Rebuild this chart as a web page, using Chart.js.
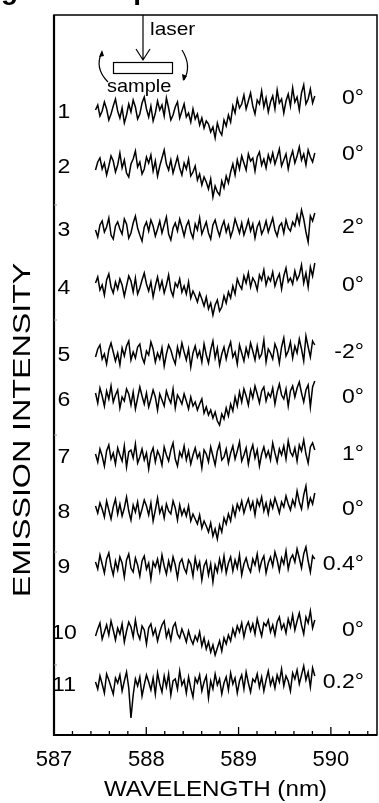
<!DOCTYPE html>
<html>
<head>
<meta charset="utf-8">
<script src="https://cdn.jsdelivr.net/npm/chart.js@4.4.0/dist/chart.umd.min.js"></script>
<style>
html, body { margin: 0; padding: 0; background: #fff; }
#wrap { width: 379px; height: 803px; }
</style>
</head>
<body>
<div id="wrap"><canvas id="myChart"></canvas></div>
<script>
// spectrum numbers and sample tilt for each trace
const traceNames = ["1", "2", "3", "4", "5", "6", "7", "8", "9", "10", "11"];
const tiltLabels = ["0°", "0°", "2°", "0°", "-2°", "0°", "1°", "0°", "0.4°", "0°", "0.2°"];
// vertical offset of each stacked spectrum (arb. units)
const offsets = [623, 568, 505, 447, 380, 335, 278, 223, 168, 102, 50];
// wavelength sampling of the spectrometer (nm)
const wlStart = 587.45;
const wlStep = 0.024;
const xTicks = [587, 588, 589, 590];
const yTickValues = [530, 415, 300, 183, 70];

// emission intensity (arb. units, relative to its offset)
const s1 = [2,7,-4,1,10,3,-8,-2,6,13, 1,-6,4,-11,-3,8,0,12,5,-7, -2,9,15,3,-5,6,-9,-1,11,2, 7,-4,14,4,-8,-3,5,10,-6,1,
  8,-5,-1,-10,3,-7,-2,-13,-6,-16, -9,-12,-20,-15,-26,-11,-19,-23,-8,-14, -3,-10,6,-1,13,4,8,17,3,11,
  19,6,-2,12,8,21,5,14,0,10, 16,3,22,9,13,-1,11,18,6,24, 10,15,2,19,27,8,13,23,9,16];
const s2 = [-3,5,9,-2,4,-8,1,11,6,-5, 2,14,-1,7,-6,-10,3,8,16,0, 5,-7,-2,10,4,12,-4,6,-9,1, 9,17,3,-3,7,-6,2,10,-1,-8,
  4,-2,8,-9,-5,1,-13,-7,-18,-10, -15,-22,-12,-30,-19,-25,-28,-14,-21,-9, -16,-5,3,-8,7,-2,11,4,-3,13,
  6,9,-4,10,15,2,8,-1,12,5, 14,3,10,18,1,7,13,-2,9,16, 4,11,20,7,13,2,17,10,5,14];
const s3 = [0,-7,5,9,-2,3,12,-5,-9,4, 8,1,-4,11,6,-8,-3,7,14,2, -5,-11,3,8,-1,10,4,-6,1,9, -3,5,13,-4,-10,2,7,-1,11,3,
  -6,4,9,-2,-8,6,0,12,-4,2, 8,-3,-9,5,10,1,-6,3,9,-2, 5,-7,0,11,4,-3,7,-5,2,10,
  -1,6,-8,3,8,-4,1,9,-2,5, 12,0,-6,4,7,-3,10,2,-1,8, 4,15,6,20,11,-2,-12,14,9,17];
const s4 = [5,11,-2,3,-7,8,14,1,-5,6, -1,9,3,-8,2,12,7,-4,10,-6, 0,8,15,4,-3,6,-9,2,11,-1, 7,-5,3,13,-2,-8,5,1,9,-4,
  2,-6,6,-10,-3,-8,-14,-5,-11,-18, -9,-21,-15,-27,-17,-12,-23,-19,-8,-15, -4,-10,2,-6,9,3,-1,12,5,15,
  1,10,6,-2,13,8,18,3,11,7, 16,2,9,14,-1,12,20,6,10,4, 17,8,13,23,5,15,1,21,12,25];
const s5 = [-2,6,10,-4,1,-9,5,12,3,-6, 2,-10,7,-1,9,14,-5,3,-3,8, 11,-2,-8,4,0,13,6,-7,2,-4, 7,-11,1,10,5,-3,-9,8,-1,12,
  3,-5,6,-12,2,9,-2,4,-7,11, 0,-8,5,14,-3,7,-10,1,8,-4, 6,13,-2,3,-9,10,2,-6,7,-1,
  12,4,-5,9,-3,1,15,-7,6,2, -4,11,5,-8,8,17,-1,4,13,-3, 9,2,16,6,-6,19,8,-2,14,10];
const s6 = [7,-3,12,4,-6,9,1,14,-2,5, 10,-8,3,-1,11,6,-5,8,-9,2, 13,4,-4,7,-7,1,10,3,-10,6, 0,-6,9,2,-3,11,-8,5,1,-4,
  6,-1,-9,3,-6,-2,-10,-4,1,-13, -7,-15,-10,-18,-12,-21,-25,-14,-19,-8, -16,-4,-11,3,-6,8,-2,11,4,-5,
  10,2,14,6,-3,9,13,-1,7,3, 12,-4,8,16,5,1,11,-6,9,14, 3,12,18,7,-2,10,15,-7,13,19];
const s7 = [3,-5,8,1,-9,6,12,-2,4,-7, 9,2,-4,11,-10,5,7,-1,13,-6, 0,8,-3,4,-12,3,9,-5,6,1, -8,10,2,-4,7,14,-2,-9,5,0,
  11,-3,6,-7,2,9,-1,4,-11,7, 3,-5,10,1,-8,6,13,-3,0,8, -6,4,11,-2,6,15,-4,2,9,-7,
  5,12,-1,7,-9,3,10,0,6,-3, 14,4,-5,8,2,11,-2,16,5,1, 9,-4,12,6,17,3,-6,10,14,7];
const s8 = [6,-1,9,3,-5,11,2,-7,5,13, -2,8,-4,4,15,1,-8,7,0,10, -5,3,12,6,-3,9,-9,2,14,-1, 5,-6,8,1,-2,11,4,-8,7,-3,
  3,-4,6,-9,-2,-7,-12,-3,-16,-9, -14,-20,-11,-24,-17,-27,-13,-20,-6,-12, -2,-9,5,-4,8,2,11,-1,7,13,
  3,10,-3,12,6,15,1,9,-2,11, 4,14,7,-1,10,5,16,8,2,12, 6,21,10,3,17,26,5,14,8,19];
const s9 = [5,-2,12,3,-6,8,14,1,-8,6, -3,10,4,-10,7,13,-1,-5,9,2, -9,6,11,-2,4,-12,5,0,8,-4, 12,1,-7,6,-3,10,2,-11,4,8,
  -1,-6,7,3,-9,9,-2,5,-13,1, 6,-8,3,-15,2,-5,8,-3,11,-6, 4,10,-4,7,-1,12,-8,3,9,0,
  -5,8,2,13,-3,6,11,-6,4,10, 1,15,7,-4,9,3,16,-2,8,12, 5,18,9,-1,13,20,6,-5,11,8];
const s10 = [-3,4,10,-6,1,8,-2,12,3,-7, 5,-1,9,-9,2,11,6,-4,13,0, -6,7,3,-11,5,9,-2,4,-8,1, 8,12,-4,3,-7,6,10,-1,-5,4,
  -2,-9,2,-6,-11,-3,-8,1,-13,-5, -16,-9,-19,-12,-22,-15,-8,-18,-5,-11, -2,-8,4,-3,7,1,10,-4,6,11,
  2,9,-1,14,5,-3,10,7,13,1, 8,-2,11,16,4,9,0,14,6,18, 3,12,20,8,-1,16,10,22,5,13];
const s11 = [3,-4,9,1,-8,11,5,-2,-9,7, 2,10,-6,4,13,-3,-33,-10,6,-1, 8,-11,0,10,3,-5,7,-9,12,1, -7,9,-2,11,-10,4,6,-4,14,0,
  5,-8,8,-3,-12,7,2,10,-6,3, 9,-13,4,-4,11,0,6,-9,2,8, -5,12,1,7,-8,4,10,-4,13,2,
  -7,6,3,11,-2,8,-6,5,14,0, 7,-3,10,3,16,-1,9,4,-6,12, 6,15,1,10,19,5,13,-2,17,9];
const spectra = [s1, s2, s3, s4, s5, s6, s7, s8, s9, s10, s11];

const FONT = "'Liberation Sans', Arial, Helvetica, sans-serif";

const datasets = spectra.map(function (vals, k) {
    return {
        label: traceNames[k],
        data: vals.map(function (v, i) {
            return { x: wlStart + i * wlStep, y: offsets[k] + v };
        }),
        borderColor: "#000",
        borderWidth: 1.5,
        pointRadius: 0,
        tension: 0,
        fill: false
    };
});

function stretchedText(ctx, txt, x, y, align, sx) {
    ctx.save();
    ctx.translate(x, y);
    ctx.scale(sx, 1);
    ctx.textAlign = align;
    ctx.fillText(txt, 0, 0);
    ctx.restore();
}

const framePlugin = {
    id: "frame",
    afterDraw(chart) {
        const ctx = chart.ctx;
        const a = chart.chartArea;
        const xs = chart.scales.x;
        const ys = chart.scales.y;
        ctx.save();
        // box
        ctx.strokeStyle = "#000";
        ctx.lineWidth = 1.5;
        ctx.strokeRect(a.left, a.top, a.right - a.left, a.bottom - a.top);
        ctx.lineWidth = 2.2;
        ctx.beginPath();
        ctx.moveTo(a.left, a.top);
        ctx.lineTo(a.left, a.bottom);
        ctx.lineTo(a.right, a.bottom);
        ctx.stroke();

        // inward ticks on wavelength axis, every 0.2 nm
        ctx.lineWidth = 1.3;
        for (let t = 0; t <= 17; t++) {
            const v = 587 + t * 0.2;
            const px = xs.getPixelForValue(v);
            const len = (t % 5 === 0) ? 8 : 4;
            ctx.beginPath();
            ctx.moveTo(px, a.bottom);
            ctx.lineTo(px, a.bottom - len);
            ctx.stroke();
        }
        // faint ticks on intensity axis
        ctx.strokeStyle = "#999";
        ctx.lineWidth = 1;
        yTickValues.forEach(function (v) {
            const py = ys.getPixelForValue(v);
            ctx.beginPath();
            ctx.moveTo(a.left, py);
            ctx.lineTo(a.left + 3, py);
            ctx.stroke();
        });

        // trace numbers and tilt angles
        const tiltNudge = [-14, -13, -3, -3, -3, -3, -3, -3, -3, -3, -3];
        ctx.fillStyle = "#000";
        ctx.font = "20px " + FONT;
        ctx.textBaseline = "middle";
        offsets.forEach(function (o, k) {
            const py = ys.getPixelForValue(o);
            stretchedText(ctx, traceNames[k], 64, py, "center", 1.15);
            stretchedText(ctx, tiltLabels[k], 364, py + tiltNudge[k], "right", 1.15);
        });

        // axis titles
        ctx.font = "22px " + FONT;
        ctx.textBaseline = "alphabetic";
        stretchedText(ctx, "WAVELENGTH (nm)", (a.left + a.right) / 2, 796, "center", 1.1);
        ctx.save();
        ctx.translate(30, 430);
        ctx.rotate(-Math.PI / 2);
        ctx.scale(1.4, 1);
        ctx.font = "23px " + FONT;
        ctx.textAlign = "center";
        ctx.fillText("EMISSION INTENSITY", 0, 0);
        ctx.restore();

        // inset: laser onto sample
        ctx.strokeStyle = "#000";
        ctx.lineWidth = 1.2;
        ctx.beginPath();
        ctx.moveTo(143, a.top);
        ctx.lineTo(143, 60);
        ctx.moveTo(136, 49);
        ctx.lineTo(143, 60);
        ctx.lineTo(150, 49);
        ctx.stroke();
        ctx.strokeRect(113.5, 62.5, 59, 11);
        ctx.beginPath();
        ctx.moveTo(102, 52);
        ctx.quadraticCurveTo(94, 68, 108, 82);
        ctx.moveTo(182, 50);
        ctx.quadraticCurveTo(192, 66, 184, 80);
        ctx.stroke();
        ctx.fillStyle = "#000";
        ctx.beginPath();
        ctx.moveTo(102, 50); ctx.lineTo(99, 57); ctx.lineTo(104, 56); ctx.closePath();
        ctx.moveTo(183, 81); ctx.lineTo(182, 74); ctx.lineTo(187, 76); ctx.closePath();
        ctx.fill();
        ctx.font = "19px " + FONT;
        stretchedText(ctx, "laser", 150, 35, "left", 1.1);
        stretchedText(ctx, "sample", 107, 92, "left", 1.05);

        // cropped heading at the very top
        ctx.font = "bold 28px " + FONT;
        const lead = ctx.measureText("Sin").width;
        ctx.textAlign = "left";
        ctx.fillText("Single-shot spectra", 1 - lead, -1);
        ctx.restore();
    }
};

new Chart(document.getElementById("myChart"), {
    type: "line",
    data: { datasets: datasets },
    options: {
        responsive: true,
        maintainAspectRatio: false,
        animation: false,
        devicePixelRatio: 1,
        layout: { padding: { top: 15, right: 2, left: 0, bottom: 0 } },
        plugins: { legend: { display: false }, tooltip: { enabled: false } },
        scales: {
            x: {
                type: "linear",
                min: 587,
                max: 590.5,
                afterBuildTicks: function (scale) {
                    scale.ticks = xTicks.map(function (v) { return { value: v }; });
                },
                afterFit: function (scale) { scale.height = 68; },
                ticks: {
                    autoSkip: false,
                    maxRotation: 0,
                    padding: 12,
                    color: "#000",
                    font: { family: FONT, size: 22 }
                },
                grid: { display: false, drawTicks: false },
                border: { display: false }
            },
            y: {
                type: "linear",
                min: 0,
                max: 720,
                afterFit: function (scale) { scale.width = 54; },
                ticks: { display: false },
                grid: { display: false, drawTicks: false },
                border: { display: false }
            }
        }
    },
    plugins: [framePlugin]
});
</script>
</body>
</html>
